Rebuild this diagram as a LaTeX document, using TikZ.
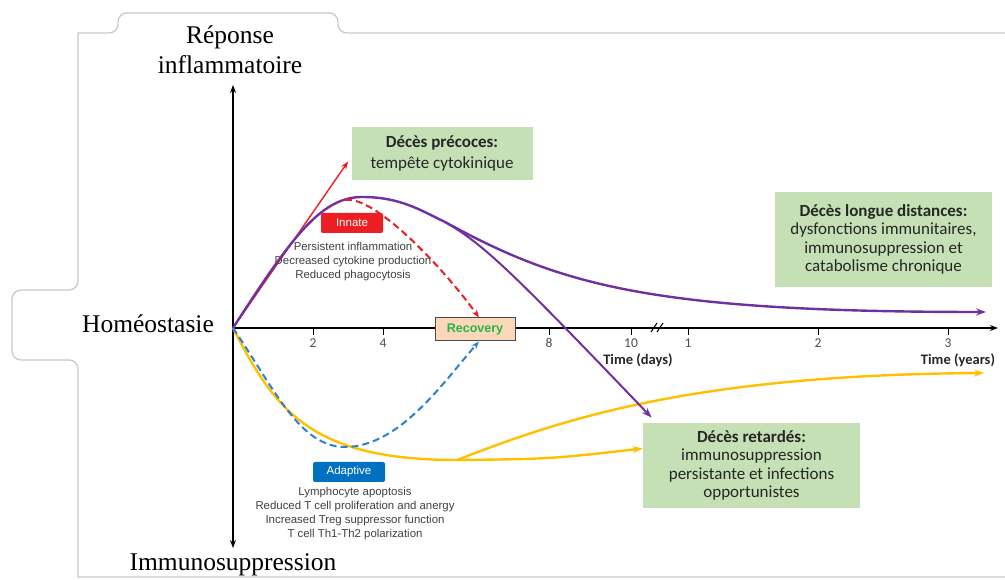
\documentclass[tikz,border=0pt]{standalone}
\usepackage{fontspec}
\setmainfont{Liberation Serif}
\setsansfont{Liberation Sans}
\newfontfamily\calibri{Carlito}
\usetikzlibrary{arrows.meta}
\definecolor{pourpre}{RGB}{112,48,160}
\definecolor{jaune}{RGB}{255,192,0}
\definecolor{bleu}{RGB}{46,128,205}
\definecolor{rouge}{RGB}{235,30,35}
\definecolor{vertpale}{RGB}{197,224,180}
\definecolor{saumon}{RGB}{250,215,185}
\definecolor{vertrec}{RGB}{40,180,70}
\definecolor{bleuetiq}{RGB}{0,112,192}

\begin{document}
\begin{tikzpicture}[
	x=1pt, y=1pt,
	thick,
	>={Stealth[length=10pt,width=7pt]}
]
\tikzset{
    cadre/.style = {draw=black!22, line width=1.2pt},
    axe/.style = {line width=1.6pt},
    courbe/.style = {line width=2.4pt},
    pointille/.style = {line width=2pt, dash pattern=on 7pt off 4pt},
    graduation/.style = {font=\calibri\fontsize{13.5}{15}\selectfont, text=black!70},
    temps/.style = {font=\calibri\bfseries\fontsize{14.5}{16}\selectfont, text=black!85},
    deces/.style = {fill=vertpale, align=center, text=black!85, font=\calibri\fontsize{17}{18.3}\selectfont},
    etiquette/.style = {rounded corners=2pt, text=white, font=\sffamily\fontsize{11.5}{13}\selectfont},
    legende/.style = {align=center, text=black!75, font=\sffamily\fontsize{11.4}{14}\selectfont},
    titre/.style = {align=center, font=\fontsize{25.5}{30}\selectfont},
}
\useasboundingbox (0,0) rectangle (1005,580);
\draw[cadre] (1005,547) [rounded corners=9pt] -- (338,547) -- (338,567) -- (118,567) -- (118,547) [sharp corners] -- (78,547) [rounded corners=9pt] -- (78,290) -- (12,290) -- (12,220) -- (78,220) [sharp corners] -- (78,3) -- (1005,3);

\node[titre] (reponse) at (230,530) {Réponse\\inflammatoire};
\node[titre] (homeo) at (148,256) {Homéostasie};
\node[titre] (immuno) at (233,15) {Immunosuppression};

\coordinate (O) at (233,252);
\coordinate (haut) at (233,495);
\coordinate (bas) at (233,32);
\coordinate (droite) at (998,252);
\draw[axe, {Stealth[length=8pt,width=6pt]}-{Stealth[length=8pt,width=6pt]}] (bas) -- (haut);
\draw[axe, -{Stealth[length=8pt,width=6pt]}] (O) -- (droite);
\foreach \x/\t in {313/2,383/4,549/8,631/10,688/1,818/2,948/3}{
    \draw[line width=1pt] (\x,252) -- (\x,245);
    \node[graduation] (grad\x) at (\x,237) {\t};
}
\draw[line width=1pt] (651,248) -- (657,257) (657,248) -- (663,257);
\node[temps] (jours) at (638,220) {Time (days)};
\node[temps] (annees) at (958,220) {Time (years)};

\node[deces, minimum width=181pt, minimum height=53pt] (precoces) at (442,426.5) {\textbf{Décès précoces:}\\[3.4pt]tempête cytokinique};
\node[deces, minimum width=217pt, minimum height=95pt] (longue) at (883.5,340.5) {\textbf{Décès longue distances:}\\dysfonctions immunitaires,\\immunosuppression et\\catabolisme chronique};
\node[deces, minimum width=217pt, minimum height=85pt] (retardes) at (751.5,114.5) {\textbf{Décès retardés:}\\immunosuppression\\persistante et infections\\opportunistes};

\node[etiquette, fill=rouge, minimum width=62pt, minimum height=20pt] (innee) at (352,357) {Innate};
\node[legende] (textinnee) at (353,318) {Persistent inflammation\\Decreased cytokine production\\Reduced phagocytosis};
\node[etiquette, fill=bleuetiq, minimum width=72pt, minimum height=20pt] (adaptative) at (349,108) {Adaptive};
\node[legende] (textadapt) at (355,66) {Lymphocyte apoptosis\\Reduced T cell proliferation and anergy\\Increased Treg suppressor function\\T cell Th1-Th2 polarization};
\node[draw=black!70, line width=1pt, fill=saumon, minimum width=80pt, minimum height=23pt, text=vertrec, font=\sffamily\bfseries\fontsize{12.5}{14}\selectfont] (recovery) at (475,250.5) {Recovery};

\coordinate (sommet) at (362,383);
\coordinate (fourche) at (445,358);
\coordinate (finlongue) at (986,268);
\coordinate (creux) at (457,120);
\coordinate (finjaune) at (984,207);
\coordinate (creuxbleu) at (345,133);
\coordinate (debutrouge) at (345,380);

\draw[rouge, line width=1.4pt, -{Stealth[length=8pt,width=6pt]}] (O) -- ([xshift=-3pt,yshift=-8pt]precoces.west);
\draw[courbe, jaune] (O) .. controls (275,170) and (310,120) .. (creux);
\draw[courbe, jaune, ->] (creux) .. controls (550,121) .. ([yshift=17pt]retardes.west);
\draw[courbe, jaune, ->] (creux) .. controls (560,160) and (690,205) .. (finjaune);
\draw[pointille, bleu, -{Stealth[length=8pt,width=6pt]}] (O) .. controls (275,190) and (300,133) .. (creuxbleu) .. controls (400,133) and (445,200) .. ([xshift=4pt]recovery.south);
\draw[courbe, pourpre] (O) .. controls (290,340) and (320,383) .. (sommet) .. controls (400,383) and (420,370) .. (fourche);
\draw[courbe, pourpre, ->] (fourche) .. controls (560,295) and (650,268) .. (finlongue);
\draw[line width=2pt, pourpre, ->] (fourche) .. controls (485,335) and (515,305) .. ([xshift=9pt,yshift=5pt]retardes.north west);
\draw[pointille, rouge, -{Stealth[length=8pt,width=6pt]}] (debutrouge) .. controls (375,385) and (445,310) .. ([xshift=4pt]recovery.north);
\end{tikzpicture}
\end{document}
